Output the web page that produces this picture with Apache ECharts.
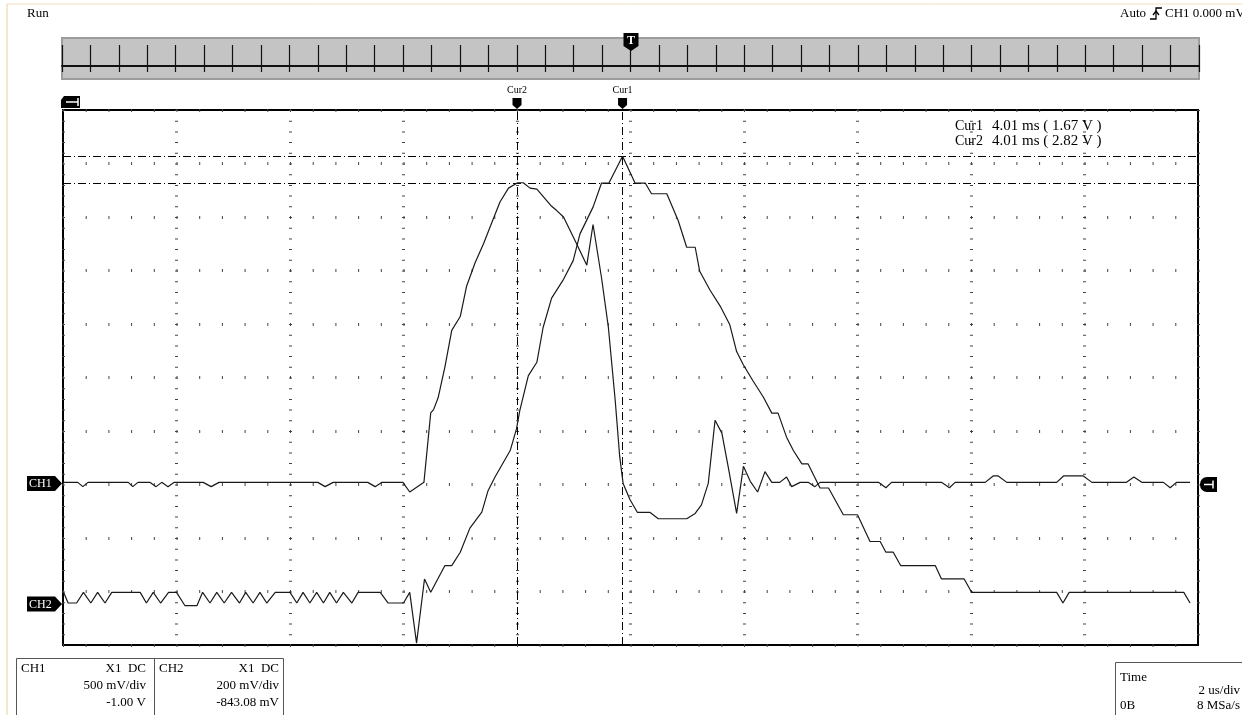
<!DOCTYPE html>
<html>
<head>
<meta charset="utf-8">
<title>Scope capture</title>
<script src="https://cdn.jsdelivr.net/npm/echarts@6/dist/echarts.min.js"></script>
<style>
  html, body { margin: 0; padding: 0; background: #fff; }
  #chart { width: 1242px; height: 715px; }
</style>
</head>
<body>
<div id="chart"></div>
<script>
  // time in us (2 us/div, trigger at 0), voltage in V
  var ch1Trace = [
    [-10.00, 0.02], [-9.74, 0.02], [-9.65, -0.02], [-9.56, 0.02], [-8.85, 0.02], [-8.77, -0.02], [-8.68, 0.02],
    [-8.47, 0.02], [-8.36, -0.02], [-8.26, 0.02], [-8.15, -0.02], [-8.04, 0.02], [-7.53, 0.02], [-7.39, -0.02],
    [-7.25, 0.02], [-5.51, 0.02], [-5.38, -0.02], [-5.24, 0.02], [-4.63, 0.02], [-4.50, -0.02], [-4.38, 0.02],
    [-4.01, 0.02], [-3.89, -0.07], [-3.64, 0.02], [-3.52, 0.67], [-3.47, 0.70], [-3.39, 0.81], [-3.27, 1.10],
    [-3.15, 1.44], [-3.00, 1.57], [-2.89, 1.85], [-2.74, 2.07], [-2.59, 2.25], [-2.45, 2.44], [-2.30, 2.64],
    [-2.15, 2.77], [-1.99, 2.82], [-1.89, 2.82], [-1.77, 2.77], [-1.65, 2.76], [-1.39, 2.60], [-1.30, 2.56],
    [-1.18, 2.50], [-0.95, 2.25], [-0.77, 2.05], [-0.66, 2.43], [-0.51, 1.93], [-0.39, 1.47], [-0.27, 0.79],
    [-0.19, 0.26], [-0.13, 0.01], [-0.01, -0.14], [0.12, -0.26], [0.34, -0.26], [0.49, -0.32], [0.99, -0.32],
    [1.14, -0.27], [1.25, -0.19], [1.37, 0.01], [1.49, 0.60], [1.61, 0.48], [1.72, 0.17], [1.87, -0.27],
    [1.99, 0.17], [2.11, 0.03], [2.24, -0.07], [2.37, 0.12], [2.49, 0.02], [2.63, 0.02], [2.75, 0.07],
    [2.84, -0.02], [2.99, 0.02], [3.13, 0.02], [3.25, -0.02], [3.34, 0.02], [4.37, 0.02], [4.50, -0.03],
    [4.60, 0.02], [5.48, 0.02], [5.62, -0.03], [5.72, 0.02], [6.25, 0.02], [6.39, 0.08], [6.48, 0.08],
    [6.63, 0.02], [7.51, 0.02], [7.63, 0.08], [7.98, 0.08], [8.13, 0.02], [8.74, 0.02], [8.87, 0.07],
    [9.01, 0.02], [9.39, 0.02], [9.51, -0.03], [9.62, 0.02], [9.86, 0.02]
  ];

  var ch2Trace = [
    [-9.99, 0.04], [-9.91, 0.00], [-9.76, 0.00], [-9.64, 0.04], [-9.51, 0.00], [-9.39, 0.04], [-9.26, 0.00],
    [-9.14, 0.04], [-8.64, 0.04], [-8.53, 0.00], [-8.41, 0.04], [-8.28, 0.00], [-8.14, 0.04], [-8.00, 0.04],
    [-7.85, -0.01], [-7.64, -0.01], [-7.54, 0.04], [-7.41, 0.00], [-7.29, 0.04], [-7.16, 0.00], [-7.03, 0.04],
    [-6.89, 0.00], [-6.78, 0.04], [-6.65, 0.00], [-6.53, 0.04], [-6.41, 0.00], [-6.26, 0.04], [-6.00, 0.04],
    [-5.88, 0.00], [-5.77, 0.04], [-5.65, 0.00], [-5.53, 0.04], [-5.41, 0.00], [-5.30, 0.04], [-5.18, 0.00],
    [-5.06, 0.04], [-4.91, 0.00], [-4.80, 0.04], [-4.41, 0.04], [-4.27, 0.00], [-4.00, 0.00], [-3.89, 0.04],
    [-3.77, -0.15], [-3.63, 0.09], [-3.52, 0.04], [-3.27, 0.14], [-3.15, 0.14], [-3.00, 0.19], [-2.83, 0.28],
    [-2.62, 0.34], [-2.51, 0.42], [-2.39, 0.47], [-2.12, 0.57], [-2.01, 0.65], [-1.95, 0.72], [-1.80, 0.85],
    [-1.65, 0.90], [-1.54, 1.03], [-1.39, 1.14], [-1.18, 1.21], [-1.01, 1.28], [-0.89, 1.38], [-0.66, 1.48],
    [-0.51, 1.57], [-0.38, 1.57], [-0.14, 1.67], [0.08, 1.57], [0.26, 1.57], [0.37, 1.53], [0.64, 1.53],
    [0.84, 1.43], [0.99, 1.33], [1.14, 1.33], [1.22, 1.24], [1.40, 1.17], [1.58, 1.11], [1.75, 1.04],
    [1.87, 0.94], [1.99, 0.89], [2.16, 0.83], [2.34, 0.77], [2.49, 0.71], [2.60, 0.71], [2.75, 0.62],
    [2.87, 0.57], [3.02, 0.52], [3.13, 0.52], [3.34, 0.43], [3.49, 0.43], [3.75, 0.33], [4.00, 0.33],
    [4.22, 0.23], [4.40, 0.23], [4.50, 0.19], [4.63, 0.19], [4.76, 0.14], [5.37, 0.14], [5.48, 0.09],
    [5.88, 0.09], [6.01, 0.04], [7.51, 0.04], [7.62, 0.00], [7.73, 0.04], [9.75, 0.04], [9.86, 0.00]
  ];

  // axis ranges: [min, max, interval]
  var timeAxis = [-10, 10, 2];          // 2 us/div
  var ch1Axis = [-1.5, 3.5, 0.5];       // 500 mV/div, offset -1.00 V
  var ch2Axis = [-0.15692, 1.84308];    // 200 mV/div, offset -843.08 mV
  var overviewDivs = 40;

  // cursors: Cur1 reads CH2, Cur2 reads CH1
  var cursorNames = ['Cur1', 'Cur2'];
  var cursorTimes = [-0.14, -2.0];
  var cursorVolts = [1.67, 2.82];
  var cursorText = ['4.01 ms ( 1.67 V )', '4.01 ms ( 2.82 V )'];

  var ch1Info = ['CH1', 'X1  DC', '500 mV/div', '-1.00 V'];
  var ch2Info = ['CH2', 'X1  DC', '200 mV/div', '-843.08 mV'];
  var timeInfo = ['Time', '2 us/div', '0B', '8 MSa/s'];

  var serif = '"Liberation Serif", "DejaVu Serif", serif';
  var chart = echarts.init(document.getElementById('chart'));

  var cursorLine = { color: '#000', width: 1, type: [8, 3, 1, 3] };

  chart.setOption({
    backgroundColor: '#fff',
    animation: false,
    grid: [
      { left: 63, top: 110, width: 1135, height: 535, show: true, borderColor: '#000', borderWidth: 2, backgroundColor: 'transparent' },
      { left: 62, top: 38, width: 1137, height: 41, show: true, borderColor: '#9c9c9c', borderWidth: 2, backgroundColor: '#c4c4c4' }
    ],
    xAxis: [
      {
        gridIndex: 0, type: 'value', min: timeAxis[0], max: timeAxis[1], interval: timeAxis[2],
        axisLine: { show: false }, axisTick: { show: false }, axisLabel: { show: false },
        splitLine: { show: true, lineStyle: { color: '#444', width: 3, type: [1, 9.7] } }
      },
      {
        gridIndex: 1, type: 'value', min: 0, max: overviewDivs, interval: 1,
        axisLine: { onZero: true, lineStyle: { color: '#111', width: 2 } },
        axisTick: { show: false }, axisLabel: { show: false },
        splitLine: { show: true, lineStyle: { color: '#111', width: 1.2, type: [27, 100], dashOffset: 120 } }
      }
    ],
    yAxis: [
      {
        gridIndex: 0, type: 'value', min: ch1Axis[0], max: ch1Axis[1], interval: ch1Axis[2],
        axisLine: { show: false }, axisTick: { show: false }, axisLabel: { show: false },
        splitLine: { show: true, lineStyle: { color: '#444', width: 3, type: [1, 21.7] } }
      },
      { gridIndex: 0, type: 'value', min: ch2Axis[0], max: ch2Axis[1], show: false, splitLine: { show: false } },
      { gridIndex: 1, type: 'value', min: -0.46, max: 1, show: false, splitLine: { show: false } }
    ],
    series: [
      {
        name: 'CH1', type: 'line', xAxisIndex: 0, yAxisIndex: 0, data: ch1Trace,
        symbol: 'none', z: 5, lineStyle: { color: '#1a1a1a', width: 1.2 },
        markLine: { silent: true, symbol: 'none', label: { show: false }, lineStyle: cursorLine,
          data: [{ xAxis: cursorTimes[1] }, { yAxis: cursorVolts[1] }] }
      },
      {
        name: 'CH2', type: 'line', xAxisIndex: 0, yAxisIndex: 1, data: ch2Trace,
        symbol: 'none', z: 5, lineStyle: { color: '#1a1a1a', width: 1.2 },
        markLine: { silent: true, symbol: 'none', label: { show: false }, lineStyle: cursorLine,
          data: [{ xAxis: cursorTimes[0] }, { yAxis: cursorVolts[0] }] }
      }
    ]
  });

  function txt(s, x, y, align, size, color, weight) {
    return {
      type: 'text', x: x, y: y, z: 20,
      style: {
        text: s, fill: color || '#000', font: (weight || 'normal') + ' ' + (size || 13) + 'px ' + serif,
        textAlign: align || 'left', align: align || 'left', textVerticalAlign: 'middle', verticalAlign: 'middle'
      }
    };
  }
  function poly(points, fill) {
    return { type: 'polygon', z: 20, shape: { points: points }, style: { fill: fill || '#000' } };
  }
  function line(x1, y1, x2, y2, color, w) {
    return { type: 'line', z: 21, shape: { x1: x1, y1: y1, x2: x2, y2: y2 }, style: { stroke: color || '#fff', lineWidth: w || 1.5 } };
  }
  function box(x, y, w, h) {
    return { type: 'rect', z: 20, shape: { x: x, y: y, width: w, height: h }, style: { fill: 'none', stroke: '#555', lineWidth: 1 } };
  }

  var g = [];
  // window edges
  g.push(line(7, 4, 7, 715, '#f1dfbc', 1.5));
  g.push(line(7, 4, 1242, 4, '#f1dfbc', 1));

  // header
  g.push(txt('Run', 27, 14));
  g.push(txt('Auto', 1120, 14));
  g.push({ type: 'polyline', z: 20, shape: { points: [[1150, 19], [1156, 19], [1156, 8], [1162, 8]] }, style: { stroke: '#000', lineWidth: 1.3, fill: 'none' } });
  g.push({ type: 'polyline', z: 20, shape: { points: [[1153, 15], [1156, 11], [1159, 15]] }, style: { stroke: '#000', lineWidth: 1.3, fill: 'none' } });
  g.push(txt('CH1 0.000 mV', 1165, 14));

  // trigger position marker over the overview strip
  var tx = chart.convertToPixel({ xAxisIndex: 0 }, 0);
  g.push(poly([[tx - 7, 33], [tx + 8, 33], [tx + 8, 46], [tx + 0.5, 51], [tx - 7, 46]]));
  g.push(txt('T', tx + 0.5, 41, 'center', 12, '#fff', 'bold'));

  // time-position marker, top left
  g.push(poly([[64, 96], [80, 96], [80, 108], [61, 108], [61, 100]]));
  g.push(line(66, 102, 78, 102));
  g.push(line(78, 98, 78, 106));

  // cursor tabs and labels
  for (var i = 0; i < cursorNames.length; i++) {
    var cx = chart.convertToPixel({ xAxisIndex: 0 }, cursorTimes[i]);
    g.push(poly([[cx - 4.5, 98], [cx + 4.5, 98], [cx + 4.5, 105], [cx, 109], [cx - 4.5, 105]]));
    g.push(txt(cursorNames[i], cx, 90, 'center', 10));
    g.push(txt(cursorNames[i], 955, 126 + i * 15, 'left', 14));
    g.push(txt(cursorText[i], 992, 126 + i * 15, 'left', 15));
  }

  // channel ground tags
  var y1 = chart.convertToPixel({ yAxisIndex: 0 }, 0) - 1;
  var y2 = chart.convertToPixel({ yAxisIndex: 1 }, 0) + 1;
  [[y1, 'CH1'], [y2, 'CH2']].forEach(function (c) {
    g.push(poly([[27, c[0] - 7.5], [55, c[0] - 7.5], [62, c[0]], [55, c[0] + 7.5], [27, c[0] + 7.5]]));
    g.push(txt(c[1], 29, c[0] + 0.5, 'left', 12, '#fff'));
  });

  // trigger level marker, right side
  var ty = chart.convertToPixel({ yAxisIndex: 0 }, 0);
  g.push({ type: 'rect', z: 20, shape: { x: 1200, y: ty - 7.5, width: 17, height: 15, r: [7, 0, 0, 7] }, style: { fill: '#000' } });
  g.push(line(1204, ty, 1213, ty));
  g.push(line(1213, ty - 4, 1213, ty + 4));

  // info boxes
  g.push(box(16.5, 658.5, 138, 70));
  g.push(box(154.5, 658.5, 129, 70));
  g.push(box(1115.5, 662.5, 140, 70));
  g.push(txt(ch1Info[0], 21, 669));
  g.push(txt(ch1Info[1], 146, 669, 'right'));
  g.push(txt(ch1Info[2], 146, 686, 'right'));
  g.push(txt(ch1Info[3], 146, 703, 'right'));
  g.push(txt(ch2Info[0], 159, 669));
  g.push(txt(ch2Info[1], 279, 669, 'right'));
  g.push(txt(ch2Info[2], 279, 686, 'right'));
  g.push(txt(ch2Info[3], 279, 703, 'right'));
  g.push(txt(timeInfo[0], 1120, 678));
  g.push(txt(timeInfo[1], 1240, 691, 'right'));
  g.push(txt(timeInfo[2], 1120, 706));
  g.push(txt(timeInfo[3], 1240, 706, 'right'));

  chart.setOption({ graphic: g });
</script>
</body>
</html>
